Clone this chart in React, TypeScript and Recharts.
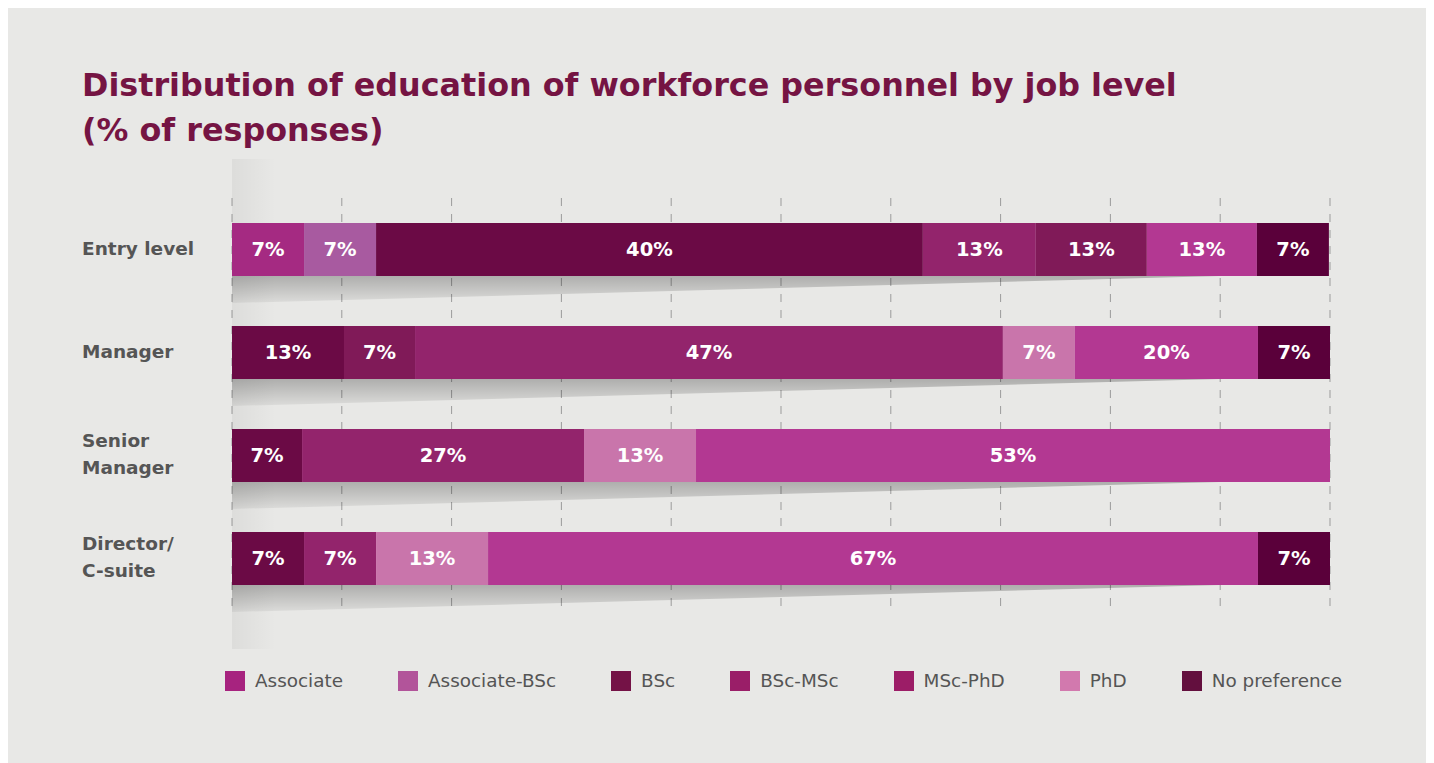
import React from "react";
import { Bar, BarChart, CartesianGrid, Cell, LabelList, XAxis, YAxis } from "recharts";

// job levels, top to bottom ("\n" = line break in the axis label)
const levels = ["Entry level", "Manager", "Senior\nManager", "Director/\nC-suite"];

const seriesNames = ["Associate", "Associate-BSc", "BSc", "BSc-MSc", "MSc-PhD", "PhD", "No preference"];

// segment lengths as drawn, per job level (share of the row)
const associate = [6.56, 0, 0, 0];
const associateBsc = [6.56, 10.2, 0, 0];
const bsc = [49.8, 6.47, 6.38, 6.56];
const bscMsc = [10.29, 53.54, 25.68, 6.56];
const mscPhd = [10.11, 6.56, 10.2, 10.2];
const phd = [10.02, 16.67, 57.74, 70.12];
const noPreference = [6.56, 6.56, 0, 6.56];

// percentages printed on the segments
const associateLabels = ["7%", "", "", ""];
const associateBscLabels = ["7%", "13%", "", ""];
const bscLabels = ["40%", "7%", "7%", "7%"];
const bscMscLabels = ["13%", "47%", "27%", "7%"];
const mscPhdLabels = ["13%", "7%", "13%", "13%"];
const phdLabels = ["13%", "20%", "53%", "67%"];
const noPreferenceLabels = ["7%", "7%", "", "7%"];

const xTicks = [0, 10, 20, 30, 40, 50, 60, 70, 80, 90, 100];

// colours
const legendColors = ["#a7237f", "#b2549a", "#741246", "#9a1e68", "#9c1d67", "#d279ae", "#630f3e"];
const cellColors = [
  ["#a52a82", "#a52a82", "#a52a82", "#a52a82"],
  ["#a85aa0", "#6b0a45", "#a85aa0", "#a85aa0"],
  ["#6b0a45", "#801a58", "#6b0a45", "#6b0a45"],
  ["#93246c", "#93246c", "#93246c", "#93246c"],
  ["#801a58", "#c975ab", "#c975ab", "#c975ab"],
  ["#b33892", "#b33892", "#b33892", "#b33892"],
  ["#5a003a", "#5a003a", "#5a003a", "#5a003a"],
];

const FONT = '"DejaVu Sans", Verdana, sans-serif';

const keys = ["associate", "associateBsc", "bsc", "bscMsc", "mscPhd", "phd", "noPreference"];
const values = [associate, associateBsc, bsc, bscMsc, mscPhd, phd, noPreference];
const labels = [associateLabels, associateBscLabels, bscLabels, bscMscLabels, mscPhdLabels, phdLabels, noPreferenceLabels];
// the shadow is hung on a series that has a segment in every row
const SHADOW_SERIES = 2;

const data = levels.map((level, i) => {
  const row: Record<string, string | number> = { level };
  keys.forEach((k, s) => {
    row[k] = values[s][i];
    row[k + "Label"] = labels[s][i];
  });
  return row;
});

// grey perspective shadow under each bar, plus the faint left wall in the gaps
const renderShadow = (p: any) => {
  const { x, y, width, height, index } = p;
  const bottom = y + height;
  const top = index === 0 ? y - 64 : y - 25;
  const wallBottom = index === levels.length - 1 ? bottom + 64 : bottom + 25;
  return (
    <g key={`shadow-${index}`}>
      <defs>
        <linearGradient id={`sh-${index}`} x1="0" y1="0" x2="0" y2="1">
          <stop offset="0%" stopColor="#000" stopOpacity={0.25} />
          <stop offset="100%" stopColor="#000" stopOpacity={0.05} />
        </linearGradient>
        <linearGradient id={`wall-${index}`} x1="0" y1="0" x2="1" y2="0">
          <stop offset="0%" stopColor="#000" stopOpacity={0.05} />
          <stop offset="100%" stopColor="#000" stopOpacity={0} />
        </linearGradient>
      </defs>
      <rect x={x} y={top} width={44} height={y - top} fill={`url(#wall-${index})`} />
      <rect x={x} y={bottom} width={44} height={wallBottom - bottom} fill={`url(#wall-${index})`} />
      <polygon
        points={`${x},${bottom} ${x + width * 0.9},${bottom} ${x},${bottom + 27}`}
        fill={`url(#sh-${index})`}
      />
    </g>
  );
};

const LevelTick = (p: any) => {
  const lines = String(p.payload.value).split("\n");
  const first = lines.length === 1 ? p.y + 5 : p.y - 8.5;
  return (
    <text x={74} y={first} fill="#555555" fontFamily={FONT} fontWeight={700} fontSize={18.5} textAnchor="start">
      {lines.map((l, i) => (
        <tspan key={i} x={74} y={first + i * 27}>
          {l}
        </tspan>
      ))}
    </text>
  );
};

export default function App() {
  return (
    <div style={{ position: "relative", width: 1421, height: 755, background: "#e8e8e6", fontFamily: FONT }}>
      <style>{"body{overflow:hidden}"}</style>
      <div
        style={{
          position: "absolute",
          left: 74,
          top: 54,
          color: "#751443",
          fontWeight: 700,
          fontSize: 31.8,
          lineHeight: "45px",
          whiteSpace: "nowrap",
        }}
      >
        Distribution of education of workforce personnel by job level
        <br />
        (% of responses)
      </div>

      <BarChart
        width={1421}
        height={755}
        data={data}
        layout="vertical"
        margin={{ top: 190, right: 99, bottom: 153, left: 0 }}
        barSize={53}
      >
        <CartesianGrid horizontal={false} stroke="#9b9b9b" strokeDasharray="8 8" />
        <XAxis type="number" domain={[0, 100]} ticks={xTicks} allowDataOverflow hide />
        <YAxis type="category" dataKey="level" width={224} axisLine={false} tickLine={false} tick={LevelTick} />
        {keys.map((k, s) => (
          <Bar
            key={k}
            dataKey={k}
            name={seriesNames[s]}
            stackId="edu"
            fill={legendColors[s]}
            isAnimationActive={false}
            background={s === SHADOW_SERIES ? renderShadow : undefined}
          >
            {levels.map((_, i) => (
              <Cell key={i} fill={cellColors[s][i]} />
            ))}
            <LabelList
              dataKey={k + "Label"}
              position="center"
              fill="#ffffff"
              fontFamily={FONT}
              fontWeight={700}
              fontSize={19.5}
            />
          </Bar>
        ))}
      </BarChart>

      <div
        style={{
          position: "absolute",
          left: 217,
          top: 662,
          display: "flex",
          alignItems: "center",
          gap: 55,
          color: "#555555",
          fontSize: 18.4,
          whiteSpace: "nowrap",
        }}
      >
        {seriesNames.map((n, s) => (
          <div key={n} style={{ display: "flex", alignItems: "center" }}>
            <span style={{ display: "inline-block", width: 20, height: 20, background: legendColors[s], marginRight: 10 }} />
            <span>{n}</span>
          </div>
        ))}
      </div>
    </div>
  );
}
